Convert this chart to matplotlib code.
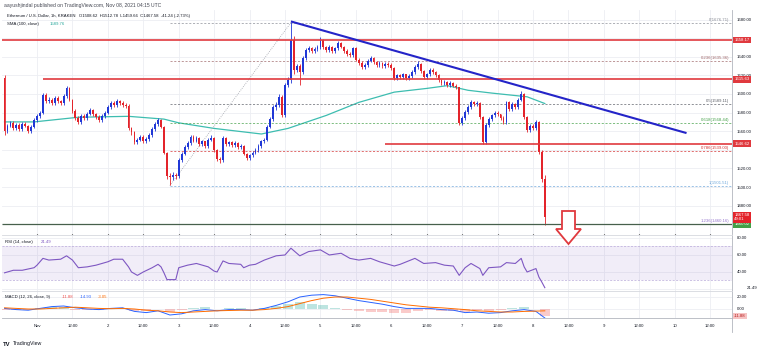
import matplotlib
matplotlib.use('Agg')
import matplotlib.pyplot as plt
from matplotlib.lines import Line2D
from matplotlib.patches import Polygon
import matplotlib.transforms as mtransforms
import numpy as np

W, H = 760, 350

# ETH/USD hourly candles, Oct 31 13:00 .. Nov 8 04:00
first_open = 1617.0
closes = [
    1560, 1566, 1569, 1563, 1567, 1562, 1568, 1566, 1560, 1565,
    1572, 1576, 1580, 1599, 1592, 1594, 1590, 1596, 1592, 1590,
    1598, 1606, 1594, 1582, 1574, 1570, 1576, 1574, 1579, 1583,
    1578, 1575, 1572, 1576, 1580, 1586, 1590, 1588, 1592, 1590,
    1588, 1587, 1563, 1559, 1548, 1551, 1554, 1549, 1552, 1556,
    1562, 1568, 1572, 1565, 1537, 1512, 1511, 1513, 1512, 1529,
    1536, 1543, 1547, 1554, 1550, 1553, 1546, 1549, 1544, 1551,
    1553, 1540, 1530, 1529, 1553, 1546, 1548, 1545, 1547, 1543,
    1544, 1536, 1531, 1534, 1537, 1540, 1544, 1549, 1551, 1565,
    1573, 1586, 1588, 1597, 1577, 1610, 1615, 1658, 1626, 1630,
    1624, 1639, 1647, 1649, 1646, 1648, 1650, 1658, 1650, 1647,
    1651, 1646, 1649, 1655, 1651, 1646, 1643, 1642, 1649, 1637,
    1633, 1629, 1631, 1636, 1639, 1634, 1631, 1633, 1630, 1632,
    1631, 1628, 1617, 1620, 1618, 1621, 1617, 1619, 1624, 1629,
    1632, 1625, 1618, 1621, 1626, 1624, 1620, 1615, 1612, 1613,
    1610, 1612, 1609, 1607, 1569, 1574, 1581, 1586, 1591, 1589,
    1590, 1575, 1548, 1567, 1573, 1577, 1580, 1578, 1574, 1570,
    1591, 1584, 1589, 1586, 1594, 1600, 1575, 1561, 1566, 1563,
    1570, 1538, 1508.82, 1467.58,
]
highs = [
    1620, 1568, 1571, 1571, 1569, 1569, 1570, 1570, 1567, 1567,
    1574, 1578, 1582, 1601, 1601, 1597, 1596, 1598, 1598, 1594,
    1600, 1609, 1607, 1595, 1584, 1576, 1578, 1578, 1581, 1585,
    1584, 1580, 1577, 1578, 1582, 1588, 1592, 1592, 1595, 1594,
    1592, 1590, 1589, 1565, 1560, 1553, 1556, 1556, 1554, 1558,
    1564, 1570, 1574, 1573, 1566, 1538, 1515, 1516, 1515, 1531,
    1538, 1545, 1550, 1556, 1556, 1555, 1554, 1551, 1550, 1553,
    1556, 1554, 1541, 1532, 1555, 1554, 1550, 1549, 1549, 1548,
    1546, 1545, 1537, 1536, 1539, 1542, 1546, 1551, 1553, 1567,
    1575, 1588, 1591, 1600, 1599, 1612, 1618, 1677, 1662, 1632,
    1632, 1641, 1649, 1652, 1651, 1650, 1653, 1661, 1659, 1652,
    1653, 1652, 1651, 1657, 1656, 1652, 1648, 1645, 1651, 1650,
    1639, 1635, 1633, 1638, 1641, 1640, 1636, 1635, 1634, 1634,
    1634, 1633, 1629, 1622, 1622, 1623, 1622, 1621, 1626, 1631,
    1635, 1633, 1626, 1623, 1628, 1628, 1625, 1621, 1616, 1615,
    1614, 1614, 1613, 1611, 1608, 1576, 1583, 1588, 1594, 1593,
    1592, 1591, 1576, 1569, 1575, 1579, 1582, 1582, 1579, 1576,
    1593, 1592, 1591, 1590, 1596, 1603, 1601, 1576, 1568, 1568,
    1572, 1571, 1540, 1512.78,
]
lows = [
    1556, 1558, 1564, 1561, 1561, 1560, 1560, 1564, 1558, 1558,
    1563, 1570, 1574, 1578, 1590, 1590, 1588, 1588, 1590, 1588,
    1588, 1596, 1592, 1580, 1572, 1568, 1568, 1572, 1572, 1577,
    1576, 1573, 1570, 1570, 1574, 1578, 1584, 1586, 1586, 1588,
    1586, 1585, 1561, 1556, 1546, 1546, 1549, 1547, 1547, 1550,
    1554, 1560, 1566, 1563, 1535, 1509, 1502, 1508, 1509, 1510,
    1527, 1534, 1541, 1545, 1548, 1548, 1544, 1544, 1542, 1542,
    1549, 1538, 1528, 1526, 1527, 1544, 1544, 1543, 1543, 1541,
    1541, 1534, 1529, 1529, 1532, 1535, 1538, 1542, 1547, 1549,
    1563, 1571, 1583, 1586, 1575, 1575, 1607, 1612, 1622, 1624,
    1610, 1622, 1637, 1645, 1644, 1644, 1646, 1648, 1648, 1645,
    1645, 1644, 1644, 1647, 1649, 1644, 1641, 1640, 1640, 1635,
    1631, 1627, 1627, 1629, 1634, 1632, 1629, 1629, 1628, 1628,
    1629, 1626, 1615, 1615, 1616, 1616, 1615, 1615, 1617, 1622,
    1627, 1623, 1616, 1616, 1619, 1622, 1618, 1613, 1610, 1610,
    1608, 1608, 1607, 1605, 1567, 1567, 1572, 1579, 1584, 1587,
    1587, 1573, 1546, 1546, 1565, 1571, 1575, 1576, 1572, 1568,
    1568, 1582, 1582, 1584, 1584, 1592, 1573, 1559, 1559, 1561,
    1561, 1536, 1505, 1459.66,
]

# SMA(100) read at a few candles
sma_idx = [0, 10, 25, 42, 54, 59, 71, 87, 96, 109, 120, 132, 143, 150, 157, 165, 177, 183]
sma_val = [1570, 1570, 1575, 1576, 1573, 1569, 1563, 1557, 1563, 1577,
           1591, 1602, 1606, 1609, 1604, 1601, 1597, 1589.76]

# RSI(14)
rsi_idx = [0, 3, 6, 10, 11, 13, 15, 19, 21, 23, 25, 28, 31, 35, 37, 40, 42, 43,
           45, 47, 50, 52, 53, 54, 55, 58, 59, 62, 65, 69, 71, 72, 74, 76, 80,
           81, 83, 85, 88, 92, 95, 97, 99, 100, 103, 107, 110, 114, 117, 120,
           124, 127, 132, 134, 139, 142, 146, 149, 152, 154, 156, 158, 161,
           162, 164, 168, 170, 173, 175, 176, 177, 180, 181, 182, 183]
rsi_val = [39, 42, 42, 45, 48, 56, 54, 55, 59, 54, 45, 46, 48, 52, 55, 55, 46, 40,
           36, 40, 45, 49, 46, 39, 31, 31, 45, 48, 50, 46, 41, 40, 53, 50, 49,
           45, 48, 49, 54, 59, 60, 68, 62, 59, 64, 66, 60, 62, 56, 54,
           56, 52, 47, 49, 56, 50, 51, 48, 47, 36, 45, 50, 44,
           36, 45, 46, 51, 50, 56, 46, 40, 44, 34, 28, 21.49]

# MACD(12, 26, 9)
macd_idx = [0, 4, 8, 12, 16, 20, 24, 28, 32, 36, 40, 44, 48, 52, 56, 60, 64,
            68, 72, 76, 80, 84, 88, 92, 96, 100, 104, 108, 112, 116, 120, 124,
            128, 132, 136, 140, 144, 148, 152, 156, 160, 164, 168, 172, 176,
            180, 183]
macd_val = [1, -1, -2, 1, 4, 5, 2, 0, -1, 1, 2, -4, -6, -3, -10, -8, -3,
            -1, -3, -1, -1, -2, 1, 6, 12, 20, 23, 24, 22, 18, 14, 11,
            8, 4, 1, 1, 1, -1, -2, -6, -5, -7, -6, -3, -1,
            -4, -14.93]
signal_val = [2, 1, 0, 0, 1, 2, 3, 2, 1, 0.5, 1, 0, -2, -3, -5, -6, -5,
              -4, -3, -2.5, -2, -2, -1, 1, 4, 9, 14, 18, 20, 20, 18, 16,
              13, 10, 7, 5, 3, 2, 0.5, -1, -3, -4, -5, -5, -4,
              -3.5, -3.05]

# drawn levels
res_levels = [1658.17, 1615.63, 1546.62]
res_start = [-1, 13, 129]
support_level = 1460.02
trend_idx = [97, 231]
trend_val = [1678, 1558]
fib_zero = 1676.71
fib_one = 1501.51
fib_anchor_idx = [56, 97]
fib_ratios = [0, 0.236, 0.5, 0.618, 0.786, 1, 1.236]
fib_colors = ['#8a8d96', '#a0686a', '#5d6068', '#43a047', '#d32f2f', '#6fa8dc', '#9575cd']

time_labels = ['Nov', '12:00', '2', '12:00', '3', '12:00', '4', '12:00', '5', '12:00',
               '6', '12:00', '7', '12:00', '8', '12:00', '9', '12:00', '10', '12:00']
price_ticks = np.arange(1460, 1681, 20)
hidden_ticks = [1460, 1540, 1660]

UP = '#2138d6'
DOWN = '#e3242b'
GRID = '#eceef3'
AXIS = '#b2b5be'
TXT = '#131722'
FS = 3.1


def _panel(fig, top, bottom):
    """Axes spanning the chart width between two pixel rows"""
    ax = fig.add_axes([2 / W, 1 - bottom / H, 730 / W, (bottom - top) / H])
    for side in ('left', 'top', 'bottom'):
        ax.spines[side].set_visible(False)
    ax.spines['right'].set_color(AXIS)
    ax.spines['right'].set_linewidth(0.6)
    ax.yaxis.tick_right()
    ax.tick_params(axis='y', labelsize=FS, length=0, pad=3.5, labelcolor=TXT)
    ax.set_xlim(-0.86, 246.4)
    ax.set_xticks([11 + 12 * k for k in range(len(time_labels))])
    ax.grid(True, color=GRID, lw=0.6)
    ax.set_axisbelow(True)
    return ax


def _tag(ax, y, text, bg, fg='white'):
    """Coloured value tag on the price scale"""
    ax.text(1.003, y, text, transform=ax.get_yaxis_transform(), ha='left',
            va='center', fontsize=FS, color=fg, clip_on=False, zorder=10,
            bbox=dict(boxstyle='square,pad=0.3', fc=bg, ec='none'))


def _fig_px(x, y):
    return x / W, 1 - y / H


if __name__ == '__main__':
    plt.rcParams['font.family'] = ['Liberation Sans', 'DejaVu Sans']
    plt.rcParams['axes.unicode_minus'] = False

    fig = plt.figure(figsize=(W / 100, H / 100), dpi=100)
    ax = _panel(fig, 10, 234)
    ax_rsi = _panel(fig, 235, 291)
    ax_macd = _panel(fig, 291, 318)
    for a in (ax_rsi, ax_macd):
        a.spines['top'].set_visible(True)
        a.spines['top'].set_color('#d6d8de')
        a.spines['top'].set_linewidth(0.6)
    ax_macd.spines['bottom'].set_visible(True)
    ax_macd.spines['bottom'].set_color(AXIS)
    ax_macd.spines['bottom'].set_linewidth(0.6)
    ax.set_xticklabels([])
    ax_rsi.set_xticklabels([])
    ax_macd.set_xticklabels(time_labels)
    ax_macd.tick_params(axis='x', labelsize=FS, length=0, pad=4.5, labelcolor=TXT)

    # candles
    c = np.array(closes, dtype=float)
    o = np.concatenate([[first_open], c[:-1]])
    hi = np.array(highs, dtype=float)
    lo = np.array(lows, dtype=float)
    idx = np.arange(len(c))
    colors = np.where(c >= o, UP, DOWN)
    ax.vlines(idx, lo, hi, colors=colors, lw=0.6, zorder=3)
    ax.bar(idx, np.maximum(np.abs(c - o), 0.8), bottom=np.minimum(o, c),
           width=0.62, color=colors, linewidth=0, zorder=3)

    ax.set_ylim(1449.5, 1690.3)
    ax.set_yticks(price_ticks)
    ax.set_yticklabels(['' if t in hidden_ticks else '%.2f' % t for t in price_ticks])

    # SMA
    ax.plot(sma_idx, sma_val, color='#3dbdb0', lw=0.9, zorder=2)

    # fibonacci retracement
    fib_levels = [fib_zero - r * (fib_zero - fib_one) for r in fib_ratios]
    ax.plot(fib_anchor_idx, [fib_one, fib_zero], color='#a0a3ab', lw=0.6,
            ls=(0, (1, 1.5)), zorder=2)
    for r, lvl, col in zip(fib_ratios, fib_levels, fib_colors):
        ax.hlines(lvl, fib_anchor_idx[0], 246.4, colors=col, lw=0.6,
                  linestyles=(0, (2.5, 2)), alpha=0.8, zorder=2)
        ax.text(0.996, lvl + 1.2, '%g(%.2f)' % (r, lvl), color=col, fontsize=FS,
                ha='right', va='bottom', transform=ax.get_yaxis_transform())

    # horizontal levels and trend line
    for lvl, start in zip(res_levels, res_start):
        ax.hlines(lvl, start, 246.4, colors='#e0393e', lw=1.2, zorder=4)
        _tag(ax, lvl, '%.2f' % lvl, '#e0393e')
    ax.hlines(support_level, -1, 246.4, colors='#47604c', lw=0.9, zorder=4)
    _tag(ax, support_level, '%.2f' % support_level, '#43a047')
    ax.plot(trend_idx, trend_val, color='#2424c8', lw=1.5, zorder=5,
            solid_capstyle='butt')
    _tag(ax, c[-1], '%.2f\n49:01' % c[-1], '#e3242b')

    # RSI
    ax_rsi.set_ylim(17.6, 83.5)
    ax_rsi.set_yticks([20, 40, 60, 80])
    ax_rsi.set_yticklabels(['', '40.00', '60.00', '80.00'])
    ax_rsi.axhspan(30, 70, color='#7e57c2', alpha=0.1, lw=0)
    ax_rsi.axhline(70, color='#b8a9d9', lw=0.5, ls=(0, (3, 2)))
    ax_rsi.axhline(30, color='#b8a9d9', lw=0.5, ls=(0, (3, 2)))
    ax_rsi.plot(rsi_idx, rsi_val, color='#7e57c2', lw=0.8)
    ax_rsi.text(1.02, rsi_val[-1], '%.2f' % rsi_val[-1], color=TXT, fontsize=FS,
                transform=ax_rsi.get_yaxis_transform(), va='center', clip_on=False)

    # MACD
    macd = np.array(macd_val)
    sig = np.array(signal_val)
    hist = macd - sig
    ax_macd.set_ylim(-15, 30)
    ax_macd.set_yticks([0, 20])
    ax_macd.set_yticklabels(['0.00', '20.00'])
    ax_macd.bar(macd_idx, hist, width=3.4,
                color=np.where(hist >= 0, '#26a69a', '#ef5350'), alpha=0.3, lw=0)
    ax_macd.plot(macd_idx, macd, color='#2962ff', lw=0.7)
    ax_macd.plot(macd_idx, sig, color='#ff6d00', lw=0.7)
    _tag(ax_macd, hist[-1], '%.2f' % hist[-1], '#f6c3c3', fg='#b71c1c')

    # header and legends
    fig.text(*_fig_px(4, 5), 'aayushjindal published on TradingView.com, Nov 08, 2021 04:15 UTC',
             fontsize=3.6, color='#434651', va='center')
    fig.text(*_fig_px(7, 16),
             'Ethereum / U.S. Dollar, 1h, KRAKEN   O1508.62  H1512.78  L1459.66  C1467.58  -41.24 (-2.73%)',
             fontsize=FS, color=TXT, va='center')
    fig.text(*_fig_px(7, 24), 'SMA (100, close)', fontsize=FS, color=TXT, va='center')
    fig.text(*_fig_px(50, 24), '%.2f' % sma_val[-1], fontsize=FS, color='#26a69a', va='center')
    fig.text(*_fig_px(5, 242), 'RSI (14, close)', fontsize=FS, color=TXT, va='center')
    fig.text(*_fig_px(41, 242), '%.2f' % rsi_val[-1], fontsize=FS, color='#7e57c2', va='center')
    fig.text(*_fig_px(5, 297), 'MACD (12, 26, close, 9)', fontsize=FS, color=TXT, va='center')
    fig.text(*_fig_px(62, 297), '%.2f' % hist[-1], fontsize=FS, color='#ef5350', va='center')
    fig.text(*_fig_px(80, 297), '%.2f' % macd[-1], fontsize=FS, color='#2962ff', va='center')
    fig.text(*_fig_px(98, 297), '%.2f' % sig[-1], fontsize=FS, color='#ff6d00', va='center')
    fig.text(*_fig_px(3, 344), 'TV', fontsize=4.2, fontweight='bold', color='#131722', va='center')
    fig.text(*_fig_px(13, 344), 'TradingView', fontsize=3.8, color='#131722', va='center')

    # price scale border through the time axis
    fig.add_artist(Line2D([732 / W, 732 / W], [1 - 318 / H, 1 - 332 / H], color=AXIS, lw=0.6))

    # downside arrow
    arrow_px = [(562, 211), (575, 211), (575, 229), (581, 229), (568.5, 244),
                (556, 229), (562, 229)]
    fig.add_artist(Polygon([_fig_px(x, y) for x, y in arrow_px], closed=True,
                           transform=fig.transFigure, fc='white', ec='#e0393e',
                           lw=1.3, zorder=20))

    fig.savefig('out.png', dpi=100, facecolor='white')
